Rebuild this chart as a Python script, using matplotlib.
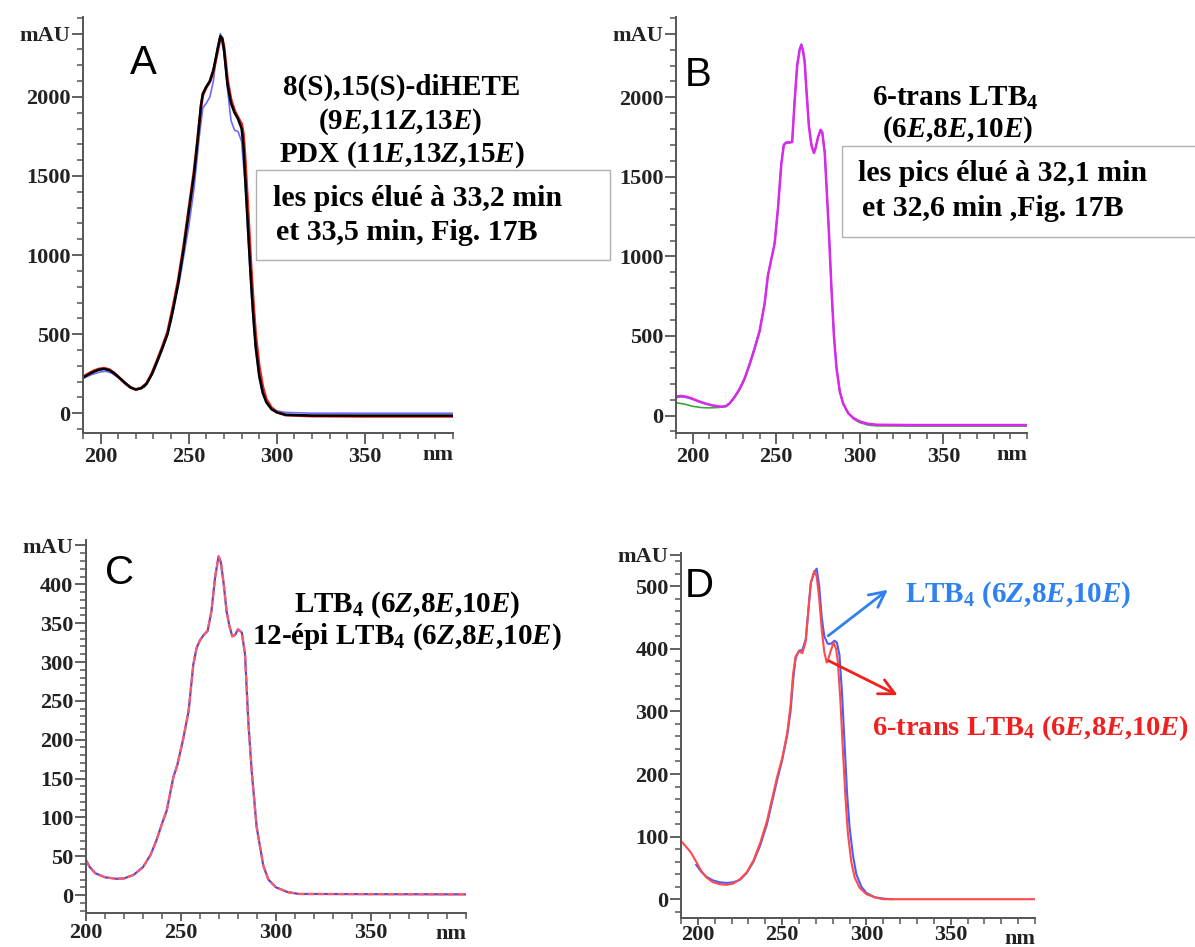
import matplotlib
matplotlib.use("Agg")
import matplotlib.pyplot as plt
from matplotlib.patches import Rectangle
import numpy as np

plt.rcParams['font.family'] = ['Liberation Serif', 'DejaVu Serif']
plt.rcParams['font.weight'] = 'bold'
plt.rcParams['mathtext.fontset'] = 'custom'
plt.rcParams['mathtext.rm'] = 'Liberation Serif:bold'
plt.rcParams['mathtext.it'] = 'Liberation Serif:italic'
plt.rcParams['mathtext.bf'] = 'Liberation Serif:bold'

# ---- panel A : 8(S),15(S)-diHETE / PDX spectra ----
a_black_nm = [190, 193, 196, 199, 202, 205, 208, 211, 214, 217, 220, 223, 226, 229, 232,
              235, 238, 241, 244, 247, 250, 253, 255, 257, 258, 260, 262, 264, 266, 268, 269,
              270, 271, 272, 274, 276, 278, 280, 281, 282, 283, 284, 285, 286, 287, 288, 290,
              292, 294, 297, 300, 305, 320, 350, 400]
a_black = [225, 245, 262, 275, 280, 272, 250, 220, 190, 163, 150, 158, 185, 245, 325,
           410, 500, 650, 820, 1030, 1270, 1510, 1720, 1950, 2020, 2065, 2100, 2170, 2280, 2385, 2370,
           2300, 2190, 2080, 1960, 1900, 1860, 1800, 1700, 1500, 1300, 1100, 900, 720, 560, 420, 240,
           130, 70, 25, 5, -10, -15, -15, -15]
a_red_nm = [190, 193, 196, 199, 202, 205, 208, 211, 214, 217, 220, 223, 226, 229, 232,
            235, 238, 241, 244, 247, 250, 253, 255, 257, 258, 260, 262, 264, 266, 268, 269,
            270, 271, 272, 274, 276, 278, 280, 281, 282, 283, 284, 285, 286, 287, 288, 290,
            292, 294, 297, 300, 305, 320, 350, 400]
a_red = [230, 250, 268, 280, 285, 276, 252, 221, 190, 162, 150, 159, 188, 250, 333,
         420, 515, 670, 840, 1050, 1290, 1530, 1730, 1940, 2010, 2060, 2095, 2160, 2265, 2375, 2372,
         2320, 2220, 2110, 1985, 1915, 1870, 1830, 1770, 1620, 1420, 1220, 1010, 820, 650, 500, 300,
         170, 90, 35, 8, -12, -18, -20, -20]
a_blue_nm = [190, 195, 200, 203, 206, 210, 215, 220, 225, 230, 235, 240, 245, 250, 253, 256,
             258, 260, 262, 264, 266, 268, 270, 272, 274, 276, 278, 280, 282, 284, 286, 288,
             290, 292, 295, 300, 305, 320, 350, 400]
a_blue = [220, 245, 262, 265, 255, 225, 175, 150, 165, 260, 400, 580, 850, 1180, 1420, 1750,
          1930, 1960, 2000, 2100, 2300, 2400, 2280, 2050, 1850, 1790, 1780, 1720, 1450, 1050, 680, 400,
          220, 120, 50, 15, 5, 0, 0, 0]

# ---- panel B : 6-trans LTB4 ----
b_nm = [190, 193, 196, 199, 203, 207, 212, 217, 220, 222, 225, 228, 231, 234, 237, 240,
        243, 245, 247, 249, 251, 253, 254.5, 256, 258, 259.5, 261, 262.5, 264, 265, 266, 267,
        268, 269.5, 271, 272.5, 273.5, 275, 276.5, 277.5, 279, 280, 281.5, 283, 284.5, 286, 288, 290,
        293, 296, 300, 305, 310, 330, 400]
b_magenta = [119, 123, 118, 109, 92, 77, 63, 55, 60, 75, 115, 165, 230, 320, 420, 530,
             700, 880, 980, 1080, 1300, 1580, 1700, 1715, 1715, 1720, 1980, 2200, 2300, 2330, 2290, 2220,
             2050, 1820, 1700, 1650, 1680, 1750, 1795, 1780, 1650, 1450, 1150, 800, 500, 300, 150, 75,
             15, -15, -38, -52, -58, -60, -60]
b_blue = [112, 118, 114, 105, 89, 75, 62, 55, 60, 76, 117, 168, 234, 325, 425, 535,
          705, 885, 985, 1085, 1305, 1585, 1705, 1718, 1718, 1722, 1985, 2205, 2305, 2335, 2295, 2225,
          2055, 1825, 1703, 1652, 1682, 1752, 1797, 1782, 1655, 1455, 1155, 805, 505, 305, 152, 76,
          15, -16, -40, -54, -60, -62, -62]
b_green_nm = [190, 195, 200, 205, 210, 215, 220, 222, 225, 228, 231, 234, 237, 240]
b_green = [80, 72, 58, 50, 48, 50, 56, 74, 113, 163, 228, 318, 418, 528]
b_green_tail_nm = [296, 300, 305, 310, 330, 400]
b_green_tail = [-20, -45, -60, -65, -66, -66]

# ---- panel C : LTB4 / 12-epi LTB4 ----
c_nm = [200, 202, 205, 210, 216, 220, 225, 230, 234, 237, 240, 242.5, 246, 248, 251, 254,
        256.5, 258.2, 260, 262, 264, 266, 268, 269.8, 271, 272.5, 274, 275.5, 277, 278.5, 280, 282,
        283.7, 285.4, 287.2, 289.8, 293.3, 296, 300, 306, 312, 400]
c_mau = [45, 36, 28, 23, 21, 21.5, 26, 36, 52, 70, 92, 109, 152, 167, 199, 237,
         297, 318, 328, 335, 340, 365, 410, 436, 428, 400, 365, 346, 333, 335, 342, 338,
         310, 224, 160, 88, 38, 20, 10, 4, 1.5, 1]

# ---- panel D : LTB4 vs 6-trans LTB4 ----
d_red_nm = [190, 193, 196, 199, 202, 205, 209, 213, 217, 221, 225, 229, 233, 237, 241, 244,
            247, 250, 253, 255, 256.5, 258, 260, 262, 264, 265.5, 267, 269, 270.5, 272, 273.5, 275,
            276.4, 277.5, 279, 280.5, 282, 283, 284.5, 286, 287.5, 289, 291, 293, 296, 300, 305, 310, 400]
d_red = [93, 84, 74, 60, 45, 35, 27, 24, 23, 25, 32, 43, 62, 90, 125, 160,
         195, 225, 265, 310, 360, 388, 396, 393, 412, 460, 505, 524, 515, 480, 430, 395,
         378, 385, 398, 410, 400, 380, 320, 240, 165, 105, 60, 35, 18, 8, 3, 0, 0]
d_blue_nm = [199, 202, 205, 209, 213, 217, 221, 225, 229, 233, 237, 241, 244, 247, 250, 253,
             255, 256.5, 258, 260, 262, 264, 265.5, 267, 269, 270.5, 272, 273.5, 275, 277, 279, 281,
             282.5, 284, 285.5, 287, 288.5, 290, 292, 294, 297, 300, 305, 310, 315]
d_blue = [55, 44, 36, 30, 27, 26, 27, 31, 42, 60, 86, 120, 155, 190, 222, 262,
          300, 350, 385, 397, 398, 415, 460, 505, 522, 528, 500, 450, 420, 408, 408, 413,
          410, 390, 330, 250, 170, 115, 70, 40, 20, 10, 3, 1, 0]

W, H = 1195, 947
fig = plt.figure(figsize=(W / 100, H / 100), dpi=100)


def px_axes(l, t, r, b):
    return fig.add_axes([l / W, 1 - b / H, (r - l) / W, (b - t) / H])


def style_axes(ax, xlim, ylim, yticks, yminor, xminor_start, xlen=8, xpad=2):
    ax.set_xlim(*xlim)
    ax.set_ylim(*ylim)
    for s in ['top', 'right']:
        ax.spines[s].set_visible(False)
    for s in ['left', 'bottom']:
        ax.spines[s].set_color('#555555')
        ax.spines[s].set_linewidth(1.4)
    ax.set_xticks([200, 250, 300, 350])
    ax.set_xticks(np.arange(xminor_start, 401, 10), minor=True)
    ax.set_yticks(yticks)
    ax.set_yticklabels([str(v) for v in yticks[:-1]] + ['mAU'])
    ax.set_yticks(yminor, minor=True)
    ax.tick_params(which='major', length=8, width=1.3, color='#555555', labelsize=16, pad=1)
    ax.tick_params(which='minor', length=4, width=1.1, color='#555555')
    ax.tick_params(axis='x', which='major', pad=xpad, length=xlen)
    for lab in ax.get_xticklabels() + ax.get_yticklabels():
        lab.set_fontweight('bold')
        lab.set_color('#222222')
    ax.text(1.0, -0.03, 'nm', transform=ax.transAxes, ha='right', va='top',
            fontsize=16, fontweight='bold', color='#222222')
    ax.patch.set_alpha(0)


def panel_letter(x, y, s):
    fig.text(x / W, 1 - y / H, s, family='Liberation Sans', fontweight='normal',
             fontsize=29, ha='center', va='center')


def ftext(x, y, s, color='black', ha='center', size=21):
    fig.text(x / W, 1 - y / H, s, ha=ha, va='center', fontsize=size,
             fontweight='bold', color=color, zorder=10)


def fbox(l, t, r, b):
    fig.patches.append(Rectangle((l / W, 1 - b / H), (r - l) / W, (b - t) / H,
                                 transform=fig.transFigure, facecolor='white',
                                 edgecolor='#b0b0b0', linewidth=1.0, zorder=5))


# Panel A
axA = px_axes(83, 17, 453, 433)
axA.plot(a_blue_nm, a_blue, color='#6a6aff', lw=1.2)
axA.plot(a_red_nm, a_red, color='#e8241c', lw=2.0)
axA.plot(a_black_nm, a_black, color='black', lw=1.8)
style_axes(axA, (190, 400), (-125, 2505), [0, 500, 1000, 1500, 2000, 2400],
           np.arange(-100, 2501, 100), 190)
panel_letter(143, 63, 'A')
ftext(402, 87, '8(S),15(S)-diHETE')
ftext(400, 122, r'(9$\mathit{E}$,11$\mathit{Z}$,13$\mathit{E}$)')
ftext(402, 155, r'PDX (11$\mathit{E}$,13$\mathit{Z}$,15$\mathit{E}$)')
fbox(256, 170, 610, 260)
ftext(273, 198, 'les pics élué à 33,2 min', ha='left', size=21.5)
ftext(276, 233, 'et 33,5 min, Fig. 17B', ha='left', size=21.5)

# Panel B
axB = px_axes(676, 17, 1027, 433)
axB.plot(b_green_nm, b_green, color='#3aa83a', lw=1.2)
axB.plot(b_green_tail_nm, b_green_tail, color='#3aa83a', lw=1.2)
axB.plot(b_nm, b_blue, color='#4a70ff', lw=1.2)
axB.plot(b_nm, b_magenta, color='#d82ae8', lw=1.8)
style_axes(axB, (190, 400), (-110, 2505), [0, 500, 1000, 1500, 2000, 2400],
           np.arange(-100, 2501, 100), 190)
panel_letter(698, 75, 'B')
ftext(955, 98, r'6-trans LTB$_4$')
ftext(958, 130, r'(6$\mathit{E}$,8$\mathit{E}$,10$\mathit{E}$)')
fbox(842, 146, 1200, 237)
ftext(858, 173, 'les pics élué à 32,1 min', ha='left', size=21.5)
ftext(862, 208, 'et 32,6 min ,Fig. 17B', ha='left', size=21.5)

# Panel C
axC = px_axes(86, 540, 466, 913)
axC.plot(c_nm, c_mau, color='#5a4ac8', lw=1.6)
axC.plot(c_nm, c_mau, color='#ff5a6a', lw=1.6, dashes=(3, 1.5))
style_axes(axC, (200, 400), (-23, 457), list(range(0, 401, 50)) + [450],
           np.arange(-20, 451, 10), 200, xlen=6, xpad=1)
panel_letter(120, 573, 'C')
ftext(407, 605, r'LTB$_4$ (6$\mathit{Z}$,8$\mathit{E}$,10$\mathit{E}$)')
ftext(407, 637, r'12-épi LTB$_4$ (6$\mathit{Z}$,8$\mathit{E}$,10$\mathit{E}$)')

# Panel D
axD = px_axes(681, 553, 1035, 918)
axD.plot(d_blue_nm, d_blue, color='#4a5cff', lw=1.5)
axD.plot(d_red_nm, d_red, color='#ff4a4a', lw=1.5)
style_axes(axD, (190, 400), (-30, 553), [0, 100, 200, 300, 400, 500, 550],
           np.arange(-20, 551, 20), 190, xlen=5, xpad=0)
panel_letter(699, 586, 'D')
axD.annotate('', xy=(314, 497), xytext=(276, 418),
             arrowprops=dict(arrowstyle='->', color='#2f80f0', lw=2, mutation_scale=28))
axD.annotate('', xy=(320, 324), xytext=(276, 383),
             arrowprops=dict(arrowstyle='->', color='#f02020', lw=2, mutation_scale=28))
ftext(905, 595, r'LTB$_4$ (6$\mathit{Z}$,8$\mathit{E}$,10$\mathit{E}$)', color='#2f80f0', ha='left')
ftext(872, 728, r'6-trans LTB$_4$ (6$\mathit{E}$,8$\mathit{E}$,10$\mathit{E}$)', color='#f02020',
      ha='left', size=20.5)

fig.savefig('out.png', dpi=100)
